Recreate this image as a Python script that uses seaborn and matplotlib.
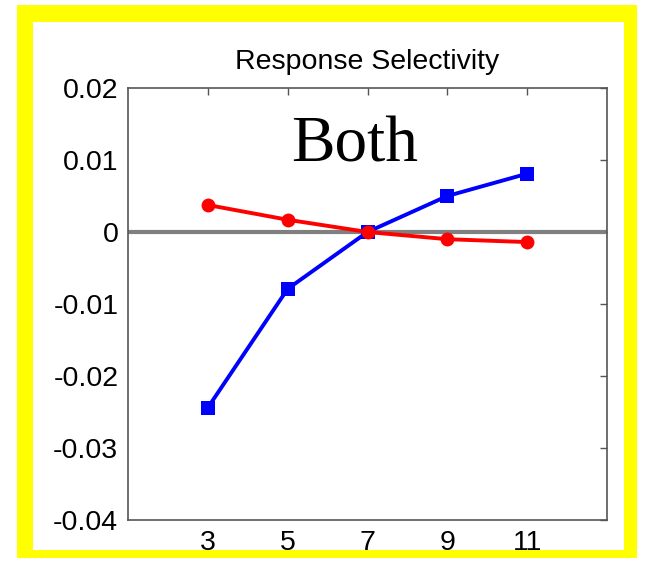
import matplotlib
matplotlib.use("Agg")
import matplotlib.pyplot as plt
import seaborn as sns
import pandas as pd
from matplotlib.patches import Rectangle

# Data
sizes = [3, 5, 7, 9, 11]
blue_vals = [-0.0244, -0.0079, 0.0, 0.0050, 0.0081]
red_vals = [0.00375, 0.0017, 0.0, -0.0010, -0.0014]
x_ticks = [3, 5, 7, 9, 11]
y_ticks = [-0.04, -0.03, -0.02, -0.01, 0, 0.01, 0.02]
y_ticklabels = ["-0.04", "-0.03", "-0.02", "-0.01", "0", "0.01", "0.02"]

df = pd.DataFrame({
    "x": sizes + sizes,
    "y": blue_vals + red_vals,
    "series": ["Blue"] * len(sizes) + ["Red"] * len(sizes),
})

sns.set_style("white")
plt.rcParams["font.family"] = ["Liberation Sans", "DejaVu Sans"]
plt.rcParams["text.color"] = "black"
plt.rcParams["xtick.color"] = "black"
plt.rcParams["ytick.color"] = "black"

fig = plt.figure(figsize=(6.46, 5.63), dpi=100)
ax = fig.add_axes([128 / 646, 43 / 563, 479 / 646, 432 / 563])

ax.axhline(0, color="#808080", lw=3, zorder=1)

sns.lineplot(data=df, x="x", y="y", hue="series", style="series",
             palette={"Blue": "#0000ff", "Red": "#ff0000"},
             markers={"Blue": "s", "Red": "o"}, dashes=False,
             lw=2.8, markersize=10, markeredgewidth=0, legend=False, ax=ax, zorder=3)

ax.set_xlim(1, 13)
ax.set_ylim(-0.04, 0.02)
ax.set_xticks(x_ticks)
ax.set_xticklabels([str(t) for t in x_ticks])
ax.set_yticks(y_ticks)
ax.set_yticklabels(y_ticklabels)
ax.set_xlabel("")
ax.set_ylabel("")
ax.tick_params(axis="both", direction="in", length=5, width=1, color="#555555",
               labelcolor="black", labelsize=20.5, top=True, right=True, pad=7)
ax.tick_params(axis="x", pad=7)
for s in ax.spines.values():
    s.set_color("#555555")
    s.set_linewidth(1.2)

ax.set_title("Response Selectivity", fontsize=20.5, pad=14, color="black")
fig.text(355 / 646, 1 - 162 / 563, "Both", family=["Liberation Serif", "DejaVu Serif"],
         fontsize=47, ha="center", va="baseline", color="black")

# Yellow frame
yel = "#ffff00"
W, H = 646, 563
frame = [
    (17, 5, 620, 17),    # top
    (17, 550, 620, 8),   # bottom
    (17, 5, 16, 553),    # left
    (624, 5, 13, 553),   # right
]
for (x0, y0, w, h) in frame:
    fig.patches.append(Rectangle((x0 / W, 1 - (y0 + h) / H), w / W, h / H,
                                 transform=fig.transFigure, facecolor=yel,
                                 edgecolor="none", zorder=10))
fig.patches.append(Rectangle((0, 0), 1, (563 - 558) / H, transform=fig.transFigure,
                             facecolor="white", edgecolor="none", zorder=10))

fig.savefig("out.png", dpi=100)
